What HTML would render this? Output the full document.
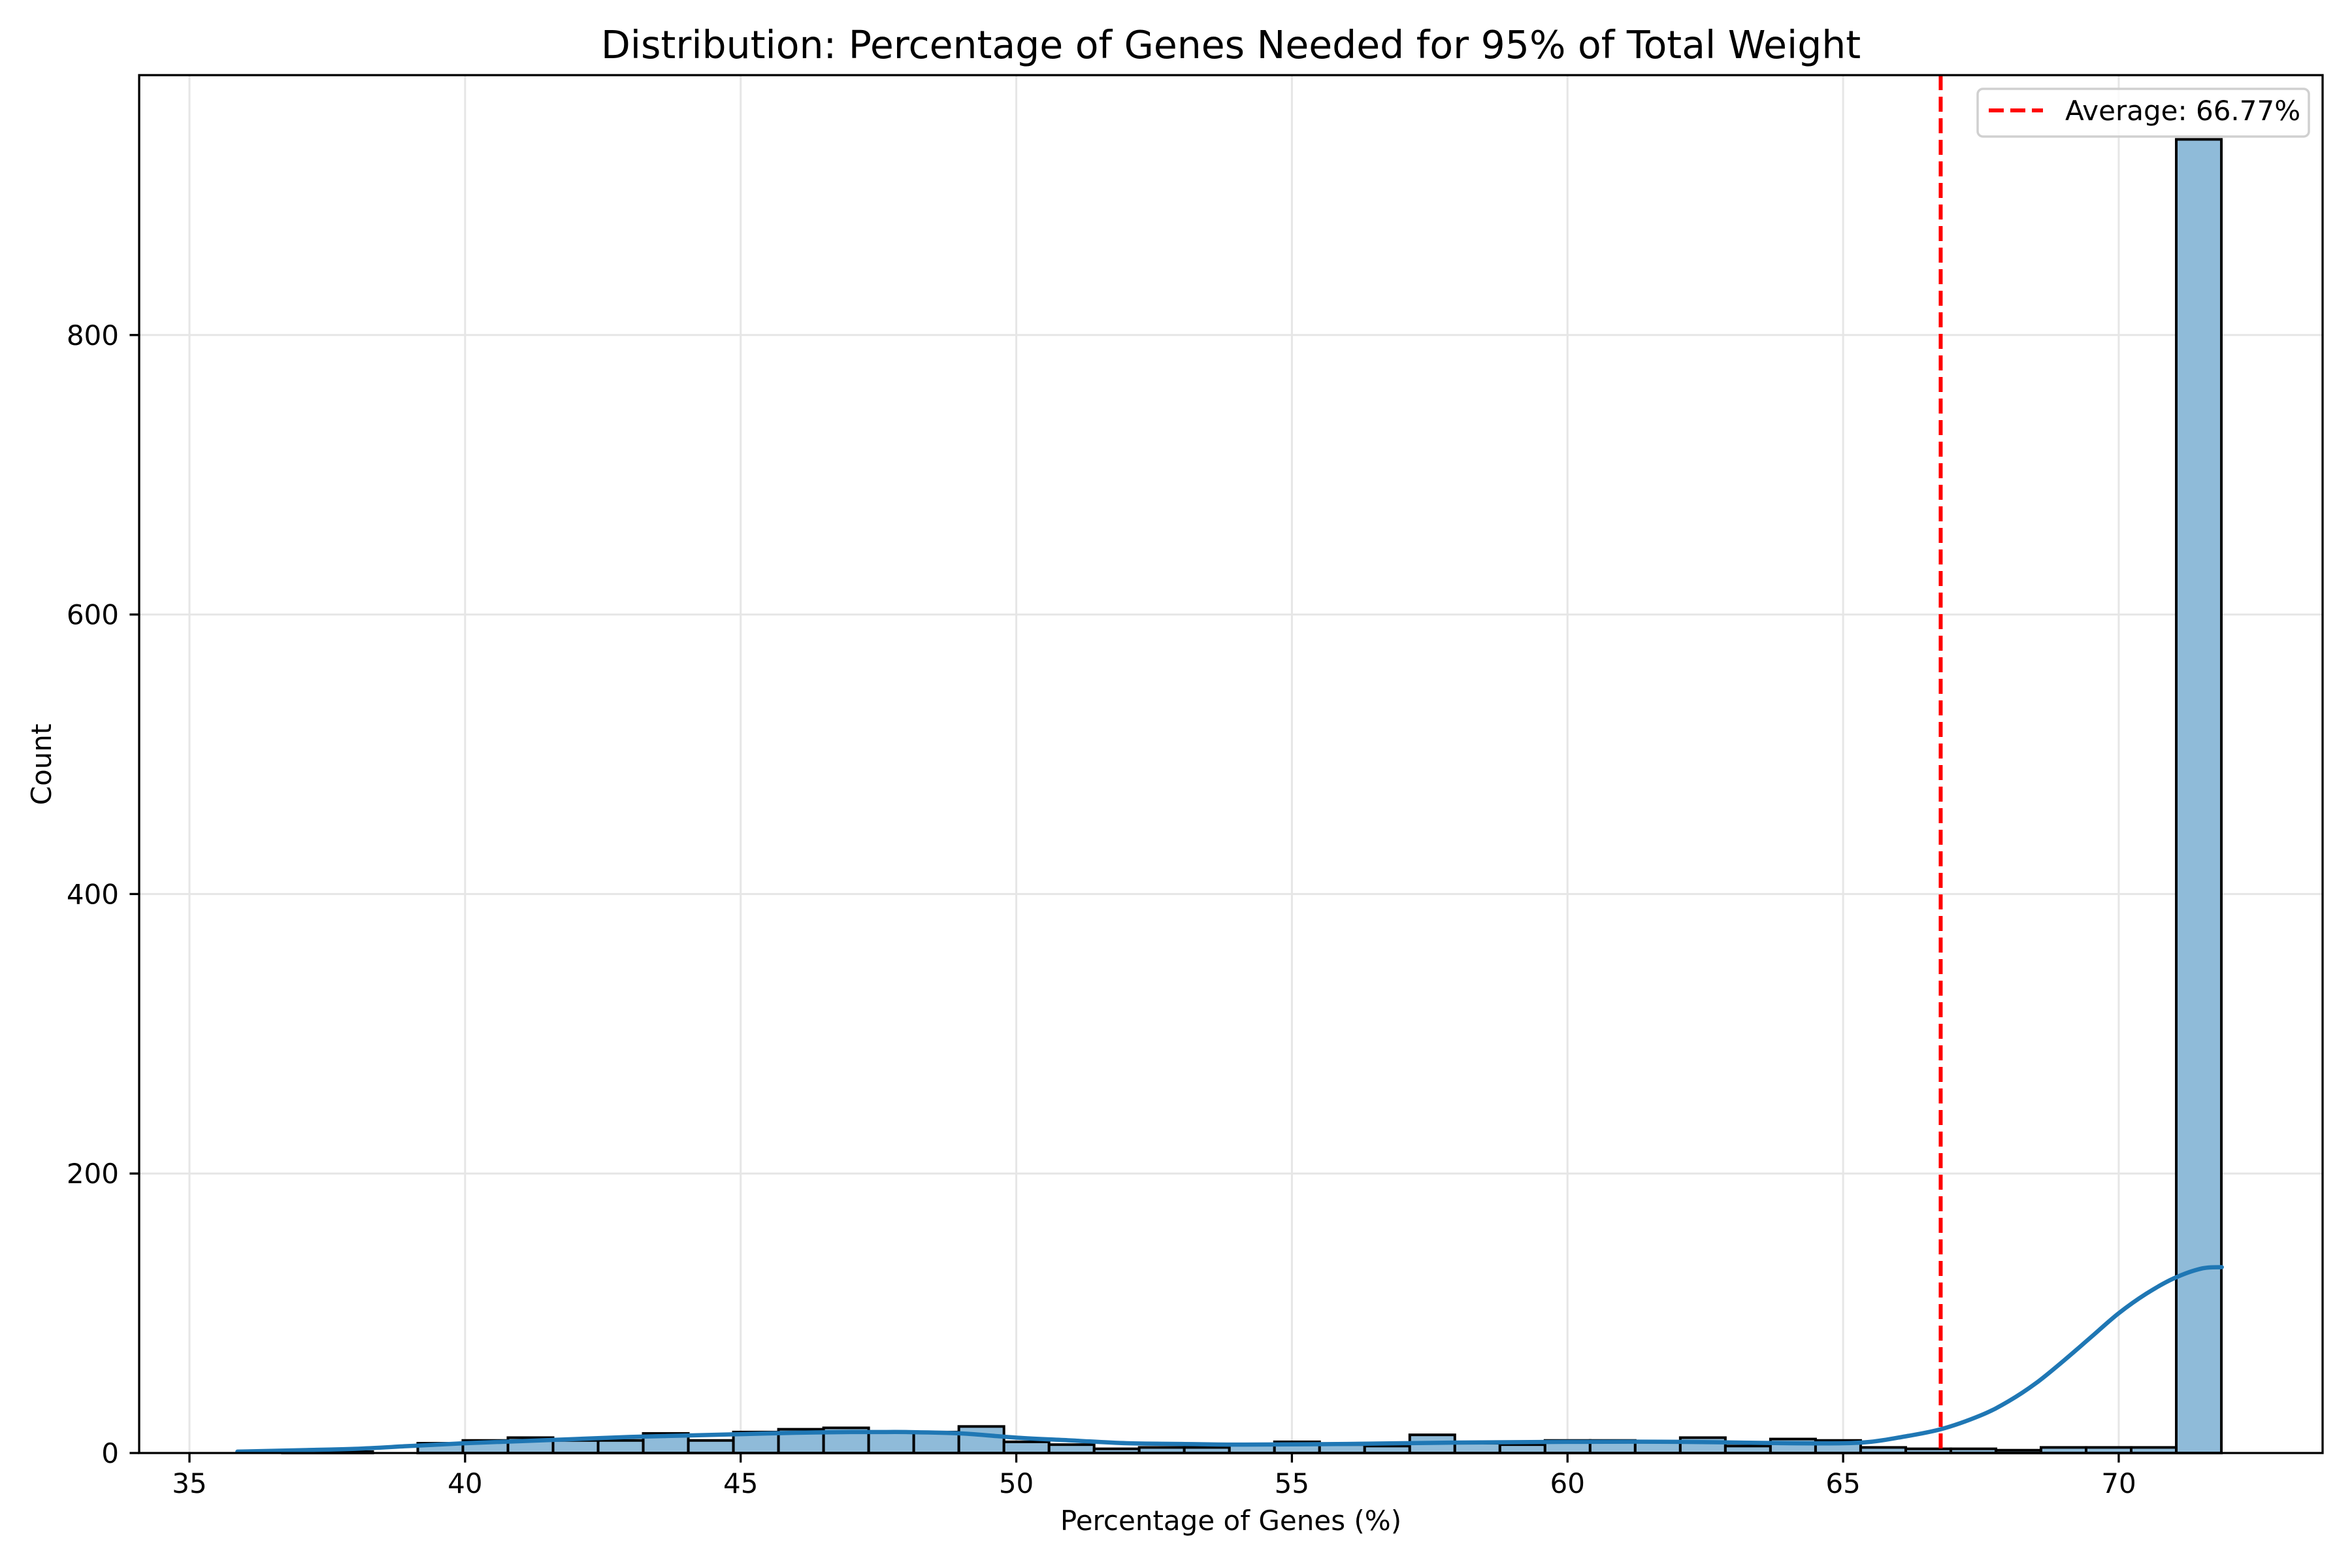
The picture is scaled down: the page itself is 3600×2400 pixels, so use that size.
<!DOCTYPE html>
<html><head><meta charset="utf-8"><style>
html,body{margin:0;padding:0;background:#fff}
svg{display:block}
text{font-family:"DejaVu Sans","Liberation Sans",sans-serif;fill:#000}
</style></head><body>
<svg id="chart" width="3600" height="2400" viewBox="0 0 3600 2400" xmlns="http://www.w3.org/2000/svg">
<rect width="3600" height="2400" fill="#fff"/>
<g id="grid"></g>
<g id="bars"></g>
<g id="kde"></g>
<g id="avg"></g>
<g id="axes"></g>
<text x="1884" y="89" font-size="58.4" text-anchor="middle">Distribution: Percentage of Genes Needed for 95% of Total Weight</text>
<text x="1884" y="2342" font-size="42" text-anchor="middle">Percentage of Genes (%)</text>
<text x="0" y="0" font-size="42" text-anchor="middle" transform="translate(78,1170) rotate(-90)">Count</text>
<g>
<rect x="3027" y="136" width="507" height="73" rx="8" fill="#fff" fill-opacity="0.8" stroke="#d0d0d0" stroke-width="3.5"/>
<line x1="3044" y1="169" x2="3127" y2="169" stroke="#ff0000" stroke-width="6" stroke-dasharray="23,10"/>
<text x="3161" y="184" font-size="42">Average: 66.77%</text>
</g>
</svg>
<script>
const binStart = 35.87;
const binWidth = 0.818;
const counts = [0,1,1,0,7,9,11,9,9,14,9,15,17,18,15,15,19,8,6,3,4,4,6,8,6,5,13,7,6,9,9,8,11,5,10,9,4,3,3,2,4,4,4,940];
const kdeX = [35.87,37,38,39,40,41,42,43,44,45,46,47,47.5,48,49,50,51,52,53,54,56,58,60,62,64,65,65.5,66,66.77,67.5,68,68.5,69,69.5,70,70.5,71,71.5,71.87];
const kdeY = [1,2,3,5,7,8.5,10,11.5,12.5,13.5,14.5,15,15,15,14,11,9,7,6.5,6,6.5,7.5,8,8,7,7,8,11,17,27,37,50,66,83,100,114,125,132,133];
const avgValue = 66.77;
const xTicks = [35,40,45,50,55,60,65,70];
const yTicks = [0,200,400,600,800];

const L=213,R=3555,T=115,B=2224;
const xs = v => 290 + (v-35)*84.37;
const ys = c => B - c*2.139;
const NS="http://www.w3.org/2000/svg";
function mk(tag,attrs,parent){const e=document.createElementNS(NS,tag);for(const k in attrs)e.setAttribute(k,attrs[k]);parent.appendChild(e);return e;}
const grid=document.getElementById('grid'),bars=document.getElementById('bars'),kde=document.getElementById('kde'),avg=document.getElementById('avg'),axes=document.getElementById('axes');

xTicks.forEach(t=>{
  const g=mk('line',{x1:xs(t),x2:xs(t),y1:T,y2:B,stroke:'#e6e6e6','stroke-width':3},grid);
  
  
});
yTicks.forEach(t=>{
  const g=mk('line',{x1:L,x2:R,y1:ys(t),y2:ys(t),stroke:'#e6e6e6','stroke-width':3},grid);
  
  
});

counts.forEach((c,i)=>{
  const x0=xs(binStart+i*binWidth),x1=xs(binStart+(i+1)*binWidth);
  const r=mk('rect',{x:x0,y:ys(c),width:x1-x0,height:B-ys(c),fill:'#8fbbd9',stroke:'#000','stroke-width':4},bars);
  
  
});

const P=kdeX.map((x,i)=>[xs(x),ys(kdeY[i])]);
let d='M'+P[0][0]+','+P[0][1];
for(let i=0;i<P.length-1;i++){
  const p0=P[Math.max(0,i-1)],p1=P[i],p2=P[i+1],p3=P[Math.min(P.length-1,i+2)];
  const c1=[p1[0]+(p2[0]-p0[0])/6,p1[1]+(p2[1]-p0[1])/6];
  const c2=[p2[0]-(p3[0]-p1[0])/6,p2[1]-(p3[1]-p1[1])/6];
  d+=' C'+c1[0]+','+c1[1]+' '+c2[0]+','+c2[1]+' '+p2[0]+','+p2[1];
}
const kp=mk('path',{d:d,fill:'none',stroke:'#1f77b4','stroke-width':6.5,'stroke-linejoin':'round','stroke-linecap':'round'},kde);



const al=mk('line',{x1:xs(avgValue),x2:xs(avgValue),y1:T,y2:B,stroke:'#ff0000','stroke-width':6,'stroke-dasharray':'23,10'},avg);



const fr=mk('rect',{x:L,y:T,width:R-L,height:B-T,fill:'none',stroke:'#000','stroke-width':3.3},axes);



xTicks.forEach(t=>{
  const tk=mk('line',{x1:xs(t),x2:xs(t),y1:B,y2:B+14.6,stroke:'#000','stroke-width':3.3},axes);
  
  
  const lb=mk('text',{x:xs(t),y:2285,'font-size':42,'text-anchor':'middle'},axes);
  lb.textContent=t;
  
  
});
yTicks.forEach(t=>{
  const tk=mk('line',{x1:L-14.6,x2:L,y1:ys(t),y2:ys(t),stroke:'#000','stroke-width':3.3},axes);
  
  
  const lb=mk('text',{x:182,y:ys(t)+15,'font-size':42,'text-anchor':'end'},axes);
  lb.textContent=t;
  
  
});
</script>
</body></html>
